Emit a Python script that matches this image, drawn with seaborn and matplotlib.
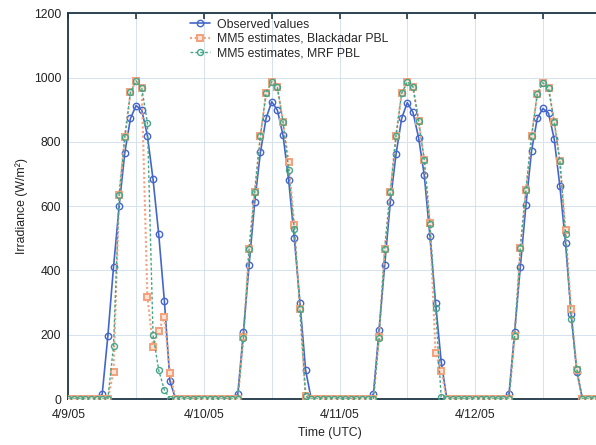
import numpy as np
import pandas as pd
import matplotlib
matplotlib.use("Agg")
import matplotlib.pyplot as plt
import seaborn as sns

# ---- data (hourly, 4 days starting 4/9/05 00:00 UTC) ----
obs_d1 = [0, 0, 0, 0, 0, 0, 15, 196, 410, 600, 766, 873, 913, 899, 819, 683, 513, 306, 55, 0, 0, 0, 0, 0]
obs_d2 = [0, 0, 0, 0, 0, 0, 15, 210, 417, 614, 767, 873, 925, 899, 821, 681, 500, 300, 90, 0, 0, 0, 0, 0]
obs_d3 = [0, 0, 0, 0, 0, 0, 15, 215, 417, 614, 761, 873, 922, 892, 813, 697, 507, 300, 116, 0, 0, 0, 0, 0]
obs_d4 = [0, 0, 0, 0, 0, 0, 15, 210, 410, 604, 773, 873, 904, 889, 809, 663, 486, 265, 85, 0, 0, 0, 0, 0]

bla_d1 = [0, 0, 0, 0, 0, 0, 0, 0, 85, 635, 814, 954, 990, 967, 318, 163, 213, 254, 80, 0, 0, 0, 0, 0]
bla_d2 = [0, 0, 0, 0, 0, 0, 0, 194, 466, 645, 818, 951, 987, 970, 863, 738, 541, 279, 10, 0, 0, 0, 0, 0]
bla_d3 = [0, 0, 0, 0, 0, 0, 0, 194, 466, 645, 818, 951, 987, 972, 865, 744, 549, 142, 88, 0, 0, 0, 0, 0]
bla_d4 = [0, 0, 0, 0, 0, 0, 0, 196, 469, 650, 818, 949, 984, 967, 863, 741, 526, 279, 90, 0, 0, 0, 0, 0]

mrf_d1 = [0, 0, 0, 0, 0, 0, 0, 0, 165, 635, 815, 954, 990, 967, 860, 199, 90, 28, 0, 0, 0, 0, 0, 0]
mrf_d2 = [0, 0, 0, 0, 0, 0, 0, 190, 466, 645, 818, 951, 987, 970, 863, 714, 530, 279, 8, 0, 0, 0, 0, 0]
mrf_d3 = [0, 0, 0, 0, 0, 0, 0, 190, 466, 645, 818, 951, 987, 972, 865, 744, 545, 282, 5, 0, 0, 0, 0, 0]
mrf_d4 = [0, 0, 0, 0, 0, 0, 0, 196, 469, 650, 818, 949, 984, 967, 863, 741, 513, 250, 92, 0, 0, 0, 0, 0]

tick_hours = [0, 12, 24, 36, 48, 60, 72, 84, 96]
tick_labels = ["4/9/05", "", "4/10/05", "", "4/11/05", "", "4/12/05", "", ""]
y_ticks = [0, 200, 400, 600, 800, 1000, 1200]

series_names = ["Observed values", "MM5 estimates, Blackadar PBL", "MM5 estimates, MRF PBL"]

observed = obs_d1 + obs_d2 + obs_d3 + obs_d4
blackadar = bla_d1 + bla_d2 + bla_d3 + bla_d4
mrf = mrf_d1 + mrf_d2 + mrf_d3 + mrf_d4
hours = list(range(len(observed)))

df = pd.DataFrame({"hour": hours, "obs": observed, "bla": blackadar, "mrf": mrf})

# ---- style ----
sns.set_style("white")
plt.rcParams["font.family"] = ["Liberation Sans", "DejaVu Sans"]
FS = 8.8

fig = plt.figure(figsize=(5.96, 4.45), dpi=100)
W, H = 596.0, 445.0
left, right, top, bottom = 68.3, 610.7, 13.3, 399.0
ax = fig.add_axes([left / W, 1 - bottom / H, (right - left) / W, (bottom - top) / H])

c_obs = "#4466cc"
c_bla = "#f4a07a"
c_mrf = "#45a588"

sns.lineplot(data=df, x="hour", y="obs", ax=ax, color=c_obs, linewidth=1.2,
             marker="o", markersize=4.6, markerfacecolor="none",
             markeredgecolor=c_obs, markeredgewidth=1.0, label=series_names[0], zorder=3)
sns.lineplot(data=df, x="hour", y="bla", ax=ax, color=c_bla, linewidth=1.5,
             linestyle=(0, (1, 1.2)), marker="s", markersize=4.8, markerfacecolor="#fde3d6",
             markeredgecolor=c_bla, markeredgewidth=1.4, label=series_names[1], zorder=4)
sns.lineplot(data=df, x="hour", y="mrf", ax=ax, color=c_mrf, linewidth=1.0,
             linestyle=(0, (2, 1.5)), marker="o", markersize=4.3, markerfacecolor="none",
             markeredgecolor=c_mrf, markeredgewidth=1.0, label=series_names[2], zorder=5)

ax.set_xlim(0, 96)
ax.set_ylim(0, 1200)
ax.set_xticks(tick_hours)
ax.set_xticklabels(tick_labels)
ax.set_yticks(y_ticks)
ax.grid(True, color="#d5e2ee", linewidth=0.7)
ax.set_axisbelow(True)

for sp in ax.spines.values():
    sp.set_color("#1e3646")
    sp.set_linewidth(1.3)

ax.tick_params(axis="both", direction="in", length=4, width=1.2, color="#1e3646",
               labelsize=FS, labelcolor="#222222", top=True, right=True)
ax.tick_params(axis="x", pad=7.5)
ax.tick_params(axis="y", pad=5)

ax.set_ylabel("Irradiance (W/m²)", fontsize=FS, color="#222222")
ax.yaxis.set_label_coords(-(left - 22) / (right - left), 0.5)
ax.yaxis.label.set_va("center")
ax.set_xlabel("Time (UTC)", fontsize=FS, color="#222222")
ax.xaxis.set_label_coords((330 - left) / (right - left), -(427 - bottom) / (bottom - top))

leg = ax.legend(loc="upper left", bbox_to_anchor=(190 / W, 1 - 18.5 / H),
                bbox_transform=fig.transFigure, frameon=False, fontsize=FS,
                handlelength=1.65, handletextpad=0.55, labelspacing=0.2,
                borderpad=0, borderaxespad=0)

fig.savefig("out.png", dpi=100)
